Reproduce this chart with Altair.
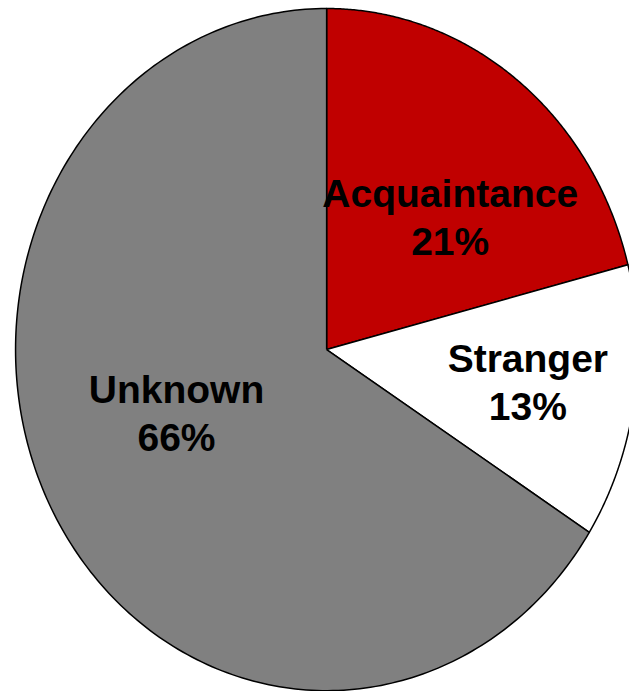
import altair as alt
import pandas as pd

# Relationship of victim to offender, share of cases (%)
categories = ["Acquaintance", "Stranger", "Unknown"]
shares = [21, 13, 66]
colors = ["#C00000", "#FFFFFF", "#808080"]

df = pd.DataFrame({
    "category": categories,
    "share": shares,
    "slot": list(range(len(categories))),
})

STEPS = 240  # points along each slice's rim

# Horizontal and vertical extents of the view (unit ellipse inside)
xscale = alt.Scale(domain=[-1.050, 0.972], nice=False, zero=False)
yscale = alt.Scale(domain=[-1.001, 1.025], nice=False, zero=False)

# Cumulative start / end angles, clockwise from 12 o'clock
base = (
    alt.Chart(df)
    .transform_window(cum="sum(share)", sort=[alt.SortField("slot")], frame=[None, 0])
    .transform_joinaggregate(total="sum(share)")
    .transform_calculate(
        a0="2 * PI * (datum.cum - datum.share) / datum.total",
        a1="2 * PI * datum.cum / datum.total",
    )
)

# Each slice is a closed outline: centre -> rim arc -> centre
slices = (
    base.transform_calculate(step=f"sequence(-1, {STEPS + 2})")
    .transform_flatten(["step"])
    .transform_calculate(
        t=f"datum.a0 + (datum.a1 - datum.a0) * clamp(datum.step, 0, {STEPS}) / {STEPS}",
        r=f"(datum.step < 0 || datum.step > {STEPS}) ? 0 : 1",
    )
    .transform_calculate(px="datum.r * sin(datum.t)", py="datum.r * cos(datum.t)")
    .mark_line(stroke="black", strokeWidth=1.5, strokeJoin="round", clip=True)
    .encode(
        x=alt.X("px:Q", scale=xscale, axis=None),
        y=alt.Y("py:Q", scale=yscale, axis=None),
        fill=alt.Fill(
            "category:N",
            scale=alt.Scale(domain=categories, range=colors),
            legend=None,
        ),
        detail="category:N",
        order="step:Q",
    )
)

# Labels anchored on each slice's mid-angle
label_base = base.transform_calculate(
    mid="(datum.a0 + datum.a1) / 2",
    lx="0.58 * sin(datum.mid)",
    ly="0.58 * cos(datum.mid)",
    label="datum.category + '\\n' + datum.share + '%'",
)

offsets = {
    "Acquaintance": (13, 14),
    "Stranger": (23, -9),
    "Unknown": (8, -42),
}

text_layers = []
for cat in categories:
    dx, dy = offsets[cat]
    text_layers.append(
        label_base.transform_filter(alt.datum.category == cat)
        .mark_text(
            font="Liberation Sans",
            fontWeight="bold",
            fontSize=39,
            lineHeight=48,
            lineBreak="\n",
            align="center",
            baseline="alphabetic",
            color="black",
            dx=dx,
            dy=dy,
        )
        .encode(
            x=alt.X("lx:Q", scale=xscale, axis=None),
            y=alt.Y("ly:Q", scale=yscale, axis=None),
            text="label:N",
        )
    )

chart = (
    alt.layer(slices, *text_layers)
    .properties(
        width=629,
        height=691,
        padding=0,
        autosize=alt.AutoSizeParams(type="none"),
        background="white",
    )
    .configure_view(stroke=None)
)

chart.save("out.html", embed_options={"renderer": "svg", "actions": False})
